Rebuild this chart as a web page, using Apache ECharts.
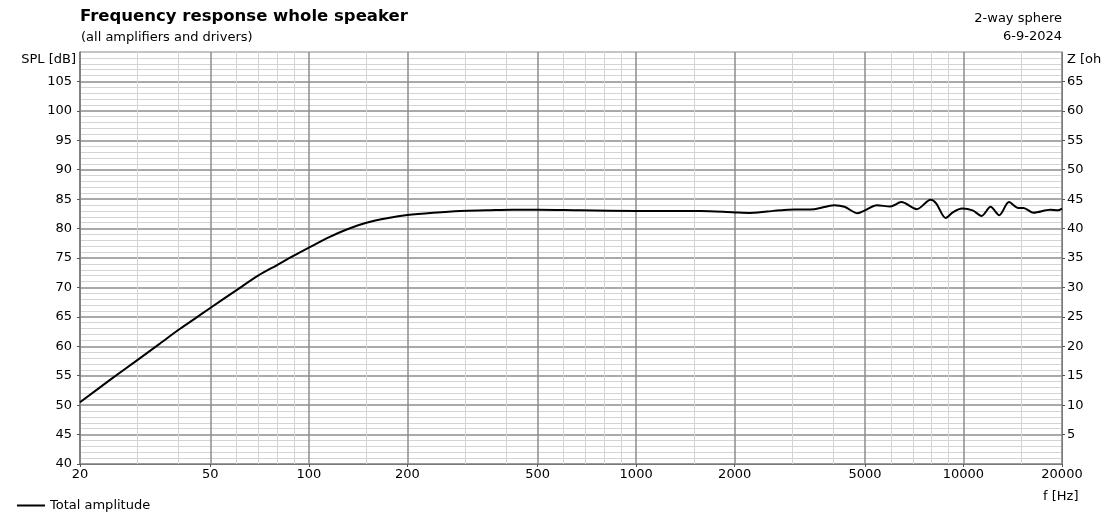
<!DOCTYPE html>
<html><head><meta charset="utf-8">
<script src="https://cdn.jsdelivr.net/npm/echarts@6/dist/echarts.min.js"></script>
<style>html,body{margin:0;padding:0;background:#fff}#c{width:1115px;height:526px}</style>
</head><body><div id="c"></div>
<script>
var freqs = [20, 25, 30, 35, 40, 45, 50, 60, 70, 80, 90, 100, 115, 130, 150, 175, 200, 240, 290, 350, 420, 500, 674, 1000, 1365, 1570, 2000, 2220, 2510, 2830, 3170, 3500, 4030, 4330, 4750, 5000, 5440, 5970, 6460, 7200, 7940, 8260, 8820, 9300, 9900, 10660, 11360, 12100, 12860, 13770, 14700, 15250, 16380, 18400, 19400, 20000];
var spl   = [50.5, 54.5, 57.7, 60.4, 62.8, 64.75, 66.5, 69.5, 72.0, 73.8, 75.4, 76.75, 78.5, 79.8, 81.0, 81.8, 82.3, 82.7, 83.0, 83.1, 83.2, 83.2, 83.1, 83.0, 83.0, 83.0, 82.75, 82.66, 82.9, 83.17, 83.24, 83.3, 83.97, 83.7, 82.6, 83.1, 83.97, 83.74, 84.5, 83.3, 84.9, 84.25, 81.8, 82.8, 83.4, 83.1, 82.15, 83.7, 82.27, 84.5, 83.5, 83.5, 82.7, 83.2, 83.1, 83.4];
var majorFreqTicks = [20, 50, 100, 200, 500, 1000, 2000, 5000, 10000, 20000];
var minorFreqTicks = [30, 40, 60, 70, 80, 90, 150, 300, 400, 600, 700, 800, 900, 1500, 3000, 4000, 6000, 7000, 8000, 9000, 15000];
var splTicks = [40, 45, 50, 55, 60, 65, 70, 75, 80, 85, 90, 95, 100, 105];
var zTicks = [5, 10, 15, 20, 25, 30, 35, 40, 45, 50, 55, 60, 65];

var FONT = 'DejaVu Sans';
var data = freqs.map(function (f, i) { return [f, spl[i]]; });
var chart = echarts.init(document.getElementById('c'), null, {renderer: 'canvas'});
function t(text, pos, size, bold) {
  var o = {text: text, padding: 0, textStyle: {fontFamily: FONT, fontSize: size, fontWeight: bold ? 'bold' : 'normal', color: '#000'}};
  for (var k in pos) o[k] = pos[k];
  return o;
}
chart.setOption({
  animation: false,
  backgroundColor: '#fff',
  textStyle: {fontFamily: FONT},
  title: [
    t('Frequency response whole speaker', {left: 80, top: 8}, 16.5, true),
    t('(all amplifiers and drivers)', {left: 81, top: 31}, 13),
    t('2-way sphere', {right: 53, top: 12}, 13),
    t('6-9-2024', {right: 53, top: 30}, 13),
    t('SPL [dB]', {right: 1115 - 76, top: 53}, 13),
    t('Z [oh', {left: 1067, top: 53}, 13),
    t('f [Hz]', {left: 1043, top: 490}, 13)
  ],
  legend: {
    left: 17, top: 499, itemWidth: 28, itemHeight: 14, itemGap: 6, padding: 0,
    textStyle: {fontFamily: FONT, fontSize: 13, color: '#000'},
    data: [{name: 'Total amplitude', icon: 'path://M0,0 L28,0 L28,2 L0,2 Z'}]
  },
  grid: {left: 80, right: 53, top: 52, bottom: 62, show: true, borderColor: '#8a8a8a', borderWidth: 1, containLabel: false},
  xAxis: [
    {type: 'log', logBase: 10, min: 20, max: 20000, position: 'top', gridIndex: 0,
     axisLine: {show: false}, axisLabel: {show: false},
     axisTick: {show: false, customValues: minorFreqTicks},
     splitLine: {show: true, lineStyle: {color: '#d4d4d4', width: 1}}},
    {type: 'log', logBase: 10, min: 20, max: 20000, position: 'bottom', gridIndex: 0,
     axisLine: {show: true, onZero: false, lineStyle: {color: '#7a7a7a', width: 1}},
     axisTick: {show: true, inside: false, length: 3, customValues: majorFreqTicks, lineStyle: {color: '#555'}},
     axisLabel: {show: true, customValues: majorFreqTicks, margin: 4, fontFamily: FONT, fontSize: 13, color: '#000',
       formatter: function (v) { return String(Math.round(v)); }},
     splitLine: {show: true, lineStyle: {color: '#8c8c8c', width: 1.5}}}
  ],
  yAxis: [
    {type: 'value', min: 40, max: 110, interval: 5, position: 'left',
     axisLine: {show: true, lineStyle: {color: '#7a7a7a', width: 1.5}},
     axisTick: {show: true, length: 3, customValues: splTicks, lineStyle: {color: '#555'}},
     axisLabel: {customValues: splTicks, margin: 8, fontFamily: FONT, fontSize: 13, color: '#000'},
     splitLine: {show: true, lineStyle: {color: '#8c8c8c', width: 1.5}},
     minorTick: {show: false, splitNumber: 5},
     minorSplitLine: {show: true, lineStyle: {color: '#d4d4d4', width: 1}}},
    {type: 'value', min: 0, max: 70, interval: 5, position: 'right',
     axisLine: {show: true, lineStyle: {color: '#7a7a7a', width: 1}},
     axisTick: {show: true, length: 3, customValues: zTicks, lineStyle: {color: '#555'}},
     axisLabel: {customValues: zTicks, margin: 5, fontFamily: FONT, fontSize: 13, color: '#000'},
     splitLine: {show: false}}
  ],
  series: [{
    name: 'Total amplitude', type: 'line', xAxisIndex: 1, yAxisIndex: 0,
    data: data, showSymbol: false, symbol: 'none', smooth: 0.3,
    lineStyle: {color: '#000', width: 2}, itemStyle: {color: '#000'}
  }]
});
</script></body></html>
